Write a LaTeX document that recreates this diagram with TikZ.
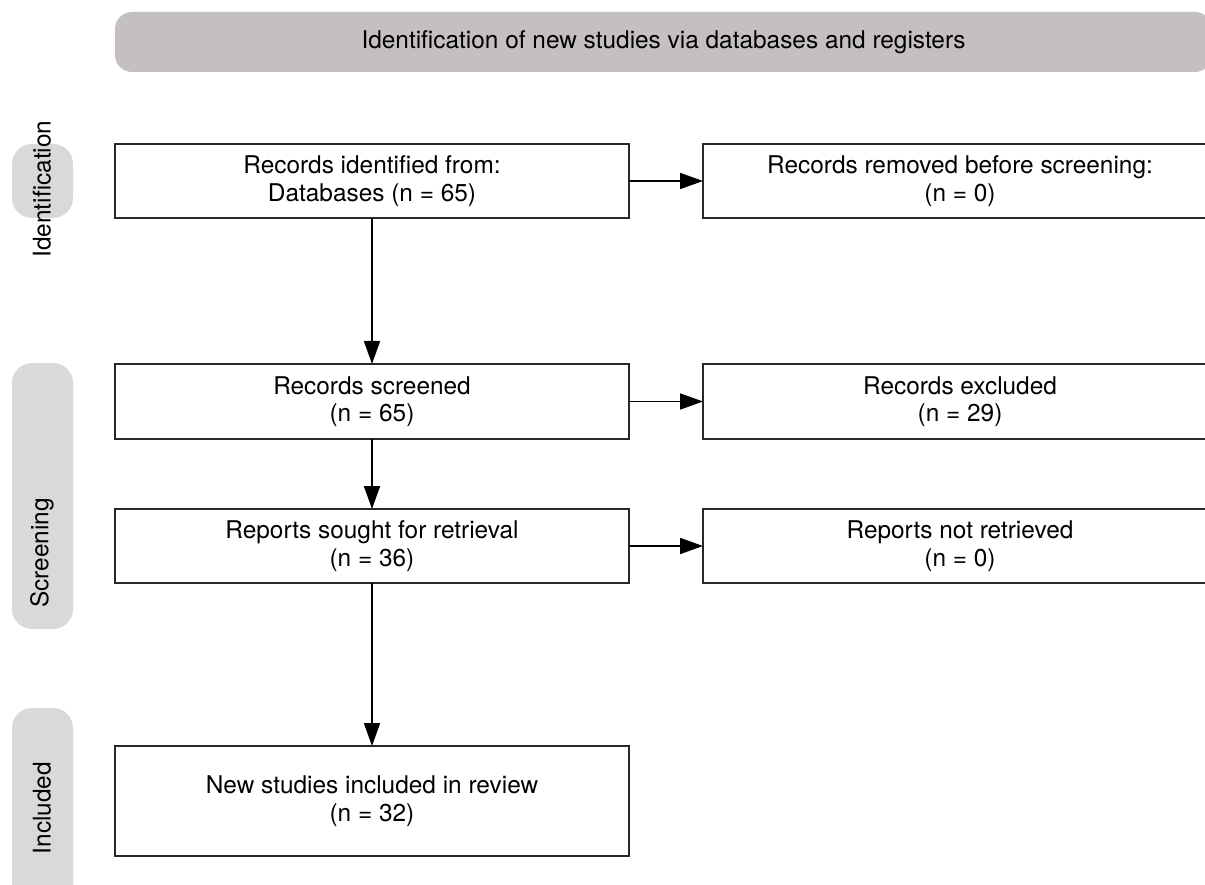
\documentclass[tikz,border=0pt]{standalone}
\usepackage{fontspec}
\setmainfont{TeX Gyre Heros}
\usetikzlibrary{arrows.meta}
\definecolor{barfill}{RGB}{196,192,191}
\definecolor{pillfill}{RGB}{217,217,217}
\definecolor{boxline}{RGB}{40,40,40}
\begin{document}
\begin{tikzpicture}[x=1pt,y=-1pt,
  every node/.style={font=\fontsize{24.4}{27.5}\selectfont, inner sep=0pt, outer sep=0pt, text=black},
  flowbox/.style={draw=boxline, line width=2pt, fill=white, minimum width=514pt, align=center},
  pill/.style={fill=pillfill, rounded corners=20pt, minimum width=61pt},
  arr/.style={line width=1.8pt, draw=black, -{Triangle[length=23pt,width=16pt]}}]
\clip (0,0) rectangle (1205,885);
\fill[white] (0,0) rectangle (1205,885);

% header bar
\node[fill=barfill, rounded corners=17pt, minimum width=1097pt, minimum height=60pt] (bar) at (663.5,42) {Identification of new studies via databases and registers};

% phase pills
\node[pill, minimum height=74pt] (pid) at (42.5,181) {};
\node[pill, minimum height=266pt] (psc) at (42.5,496) {};
\node[pill, minimum height=197pt] (pin) at (42.5,806.5) {};
\node[rotate=90] (lid) at (42,189) {Identification};
\node[rotate=90] (lsc) at (42,553) {Screening};
\node[rotate=90] (lin) at (42,808) {Included};

% main boxes
\node[flowbox, minimum height=74pt] (b1) at (372,181) {Records identified from:\\Databases (n = 65)};
\node[flowbox, minimum height=75pt] (b2) at (372,401.5) {Records screened\\(n = 65)};
\node[flowbox, minimum height=74pt] (b3) at (372,546) {Reports sought for retrieval\\(n = 36)};
\node[flowbox, minimum height=110pt] (b4) at (372,801) {New studies included in review\\(n = 32)};

% side boxes
\node[flowbox, minimum height=74pt] (r1) at (960,181) {Records removed before screening:\\(n = 0)};
\node[flowbox, minimum height=75pt] (r2) at (960,401.5) {Records excluded\\(n = 29)};
\node[flowbox, minimum height=74pt] (r3) at (960,546) {Reports not retrieved\\(n = 0)};

% connectors
\draw[arr] (b1.south) -- (b2.north);
\draw[arr] (b2.south) -- (b3.north);
\draw[arr] (b3.south) -- (b4.north);
\draw[arr] (b1.east) -- (r1.west);
\draw[arr] (b2.east) -- (r2.west);
\draw[arr] (b3.east) -- (r3.west);
\end{tikzpicture}
\end{document}
